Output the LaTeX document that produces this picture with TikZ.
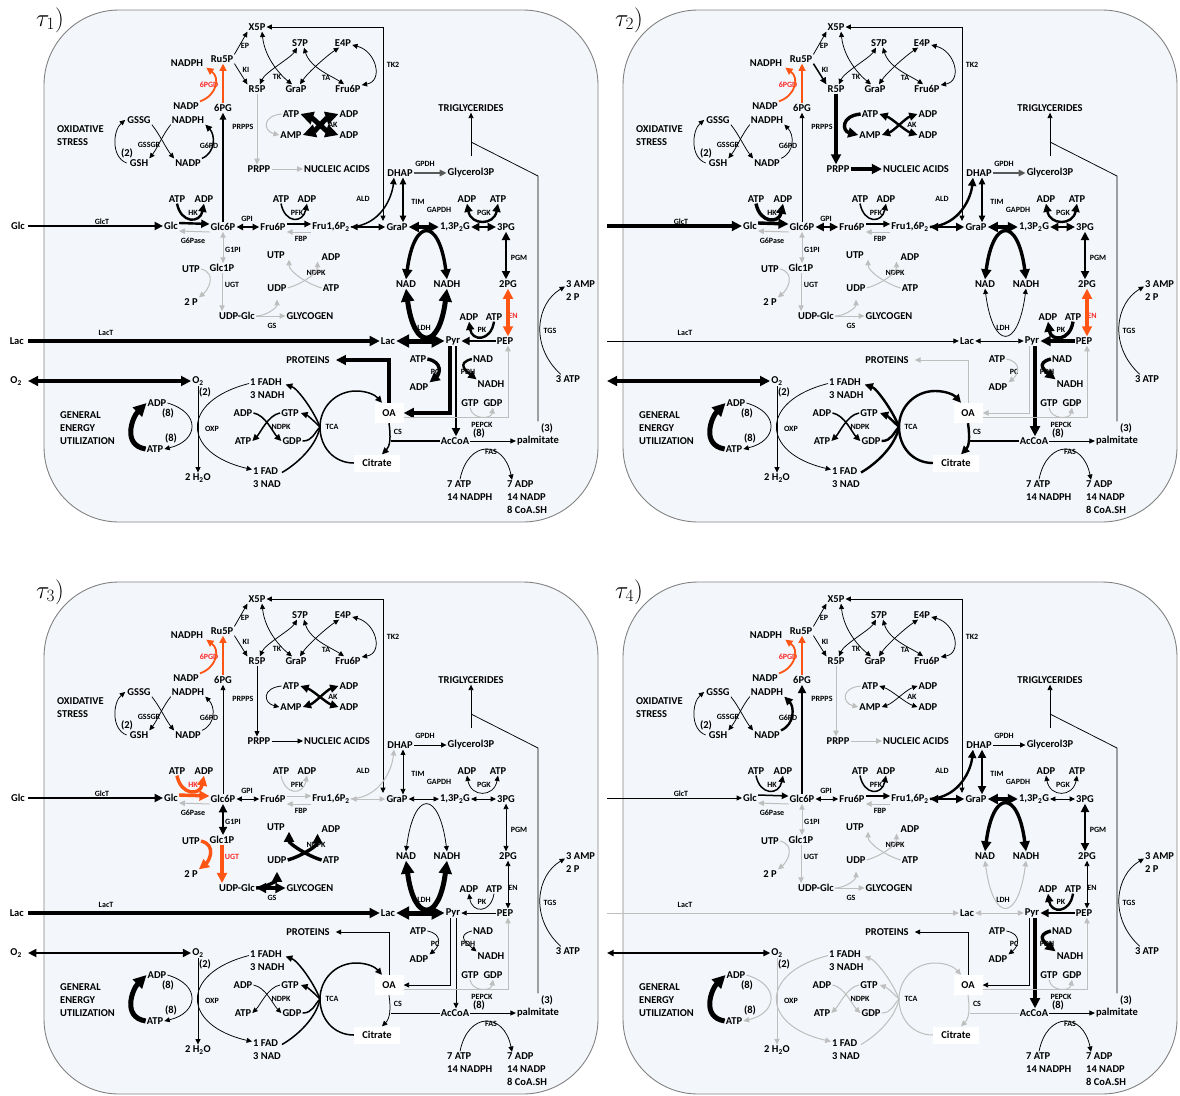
\documentclass[tikz,border=0pt]{standalone}
\usepackage[no-math]{fontspec}
\setmainfont{Carlito}
\usetikzlibrary{arrows.meta}
\definecolor{panelbg}{RGB}{243,246,250}
\definecolor{panelline}{RGB}{130,130,130}
\definecolor{idlegray}{RGB}{190,190,190}
\definecolor{hotorange}{RGB}{255,85,20}
\definecolor{labred}{RGB}{250,40,40}
\newcommand{\mfont}{\fontsize{10.5}{13}\selectfont\bfseries}
\newcommand{\efont}{\fontsize{8}{9}\selectfont\bfseries}
\newif\ifextlbl
\tikzset{
  >={Triangle[length=4pt 1.8, width=3.6pt 1.8]},
  lbl/.style={font=\mfont, inner sep=1pt},
  enz/.style={font=\efont, inner sep=0.5pt},
  mlbl/.style={lbl, align=left, anchor=west},
  wbox/.style={lbl, fill=white, minimum width=29pt, minimum height=20pt},
  panelbox/.style={draw=panelline, fill=panelbg, line width=0.9pt, rounded corners=75pt},
  wA/.style={draw=black, line width=0.75pt},
  wB/.style={draw=black, line width=1.5pt},
  wC/.style={draw=black, line width=2.4pt},
  wD/.style={draw=black, line width=3.4pt},
  wE/.style={draw=black, line width=5pt},
  idle/.style={draw=idlegray, line width=1pt},
  dgray/.style={draw=black!65, line width=1.6pt},
  hotB/.style={draw=hotorange, line width=1.8pt},
  hotD/.style={draw=hotorange, line width=3.4pt},
  redlbl/.style={text=labred},
  % reaction styles, thin black unless a panel says otherwise
  rEP/.style=wA, rKI/.style=wA, rTK/.style=wA, rTA/.style=wA, rTKtwo/.style=wA,
  rBACK/.style=wA, rPGD/.style=hotB, rGPD/.style=wA, rGSSGR/.style=wA, rOX/.style=wA,
  rPRPPS/.style=wA, rAK/.style=wA, rNUC/.style=wA, rGlcT/.style=wA, rHK/.style=wA,
  rGPase/.style=idle, rGPI/.style=wA, rGPIone/.style=wA, rUGT/.style=wA, rGS/.style=wA,
  rGStip/.style={->}, rNDPKa/.style=wA, rPFK/.style=wA, rFBP/.style=idle, rALD/.style=wA,
  rTIM/.style=wA, rGPDH/.style=wA, rTRI/.style=wA, rGAPDH/.style=wA, rPGK/.style=wA,
  rPGM/.style=wA, rEN/.style=wA, rPK/.style=wA, rLDH/.style=wA, rLacT/.style=wA,
  rPC/.style=wA, rPDH/.style=wA, rPEPCK/.style=idle, rPROT/.style=wA, rCS/.style=wA,
  rTCA/.style=wA, rNDPKb/.style=wA, rOXP/.style=wA, rGEU/.style=wE, rO2/.style=wA,
  rFAS/.style=wA, rTGS/.style=wA,
  lENc/.style={}, lHKc/.style={}, lUGTc/.style={},
}

% one panel of the network, in panel-1 pixel coordinates
\newcommand{\metnet}[1]{%
  \draw[panelbox] (44,10) rectangle (598,522);
  \node[font=\fontsize{24}{24}\selectfont] (title) at (50,20) {$\tau_{#1})$};
  % external pools
  \coordinate (GlcXe) at (28,226);
  \coordinate (LacXe) at (28,341);
  \coordinate (O2Xe) at (28,381);
  \ifextlbl
    \node[lbl, anchor=east] (GlcX) at (26,226) {Glc};
    \node[lbl, anchor=east] (LacX) at (25,341) {Lac};
    \node[lbl, anchor=east] (O2X) at (23,381) {O\textsubscript{2}};
  \fi
  % pentose phosphates
  \node[lbl] (X5P) at (257,27) {X5P};
  \node[enz] (lEP) at (245,46) {EP};
  \node[lbl] (Ru5P) at (222,59) {Ru5P};
  \node[lbl] (nadphA) at (187,63) {NADPH};
  \node[enz] (lKI) at (246,70) {KI};
  \node[lbl] (R5P) at (257,89) {R5P};
  \node[enz] (lTK) at (277,77) {TK};
  \node[lbl] (GraPa) at (296,89) {GraP};
  \node[lbl] (S7P) at (300,43) {S7P};
  \node[lbl] (E4P) at (343,43) {E4P};
  \node[enz] (lTA) at (326,78) {TA};
  \node[lbl] (Fru6Pa) at (348,89) {Fru6P};
  \node[enz] (lTKtwo) at (393,65) {TK2};
  \node[enz, redlbl] (lPGD) at (209,85) {6PGD};
  \node[lbl] (nadpA) at (186,106) {NADP};
  \node[lbl] (sixPG) at (223,108) {6PG};
  % glutathione
  \node[lbl] (GSSG) at (139,120) {GSSG};
  \node[lbl] (nadphB) at (188,120) {NADPH};
  \node[mlbl] (oxs) at (56,135.5) {OXIDATIVE\\STRESS};
  \node[enz] (lGSSGR) at (149,145) {GSSGR};
  \node[enz] (lGPD) at (209,146) {G6PD};
  \node[lbl] (twoA) at (127,153) {(2)};
  \node[lbl] (GSH) at (139,163) {GSH};
  \node[lbl] (nadpB) at (188,163) {NADP};
  % nucleotides
  \node[enz] (lPRPPS) at (243,127) {PRPPS};
  \node[lbl] (atpAK) at (291,114) {ATP};
  \node[lbl] (ampAK) at (291,135) {AMP};
  \node[lbl] (adpAKa) at (349,114) {ADP};
  \node[lbl] (adpAKb) at (349,135) {ADP};
  \node[enz] (lAK) at (333,125) {AK};
  \node[lbl] (PRPP) at (259,169) {PRPP};
  \node[lbl] (nucl) at (337,169) {NUCLEIC ACIDS};
  % lipids, top
  \node[lbl] (TRI) at (471,108) {TRIGLYCERIDES};
  \node[lbl] (DHAP) at (400,173) {DHAP};
  \node[enz] (lGPDH) at (425,164) {GPDH};
  \node[lbl] (G3P) at (471,173) {Glycerol3P};
  % glycolysis
  \node[lbl] (atpHK) at (177,199) {ATP};
  \node[lbl] (adpHK) at (204,199) {ADP};
  \node[lbl] (atpPFK) at (281,199) {ATP};
  \node[lbl] (adpPFK) at (307,199) {ADP};
  \node[enz] (lALD) at (363,199) {ALD};
  \node[enz] (lTIM) at (418,202) {TIM};
  \node[lbl] (adpPGK) at (467,199) {ADP};
  \node[lbl] (atpPGK) at (498,199) {ATP};
  \node[enz] (lGAPDH) at (439,210) {GAPDH};
  \node[enz, lHKc] (lHK) at (193,213) {HK};
  \node[enz] (lPFK) at (297,213) {PFK};
  \node[enz] (lPGK) at (484,213) {PGK};
  \node[enz] (lGPI) at (247,219) {GPI};
  \node[enz] (lGlcT) at (102,222) {GlcT};
  \node[lbl] (Glc) at (171,226) {Glc};
  \node[lbl] (Glc6P) at (223,227) {Glc6P};
  \node[lbl] (Fru6P) at (273,227) {Fru6P};
  \node[lbl] (Fru16) at (331,227) {Fru1,6P\textsubscript{2}};
  \node[lbl] (GraP) at (397,227) {GraP};
  \node[lbl] (P13G) at (455,227) {1,3P\textsubscript{2}G};
  \node[lbl] (PG3) at (506,227) {3PG};
  \node[enz] (lGPase) at (193,241) {G6Pase};
  \node[enz] (lFBP) at (301,239) {FBP};
  \node[enz] (lGPIone) at (233,250) {G1PI};
  \node[lbl] (utpA) at (276,255) {UTP};
  \node[lbl] (adpN) at (331,257) {ADP};
  \node[enz] (lPGM) at (519,258) {PGM};
  \node[lbl] (Glc1P) at (222,268) {Glc1P};
  \node[lbl] (utpB) at (191,269) {UTP};
  \node[enz] (lNDPKa) at (316,273) {NDPK};
  \node[lbl] (NADa) at (406,284) {NAD};
  \node[lbl] (NADHa) at (447,284) {NADH};
  \node[lbl] (PG2) at (508,284) {2PG};
  \node[mlbl] (amp3) at (565,290.5) {3 AMP\\2 P};
  \node[enz, lUGTc] (lUGT) at (232,285) {UGT};
  \node[lbl] (udpA) at (277,288) {UDP};
  \node[lbl] (atpN) at (331,288) {ATP};
  \node[lbl] (twoP) at (191,302) {2 P};
  \node[lbl] (UDPGlc) at (237,316) {UDP-Glc};
  \node[lbl] (GLYC) at (310,316) {GLYCOGEN};
  \node[enz, lENc] (lEN) at (513,316) {EN};
  \node[lbl] (adpPK) at (469,317) {ADP};
  \node[lbl] (atpPK) at (494,317) {ATP};
  \node[enz] (lGS) at (272,326) {GS};
  \node[enz] (lLDH) at (424,328) {LDH};
  \node[enz] (lPK) at (482,330) {PK};
  \node[enz] (lTGS) at (550,331) {TGS};
  \node[enz] (lLacT) at (106,333) {LacT};
  \node[lbl] (Lac) at (388,341) {Lac};
  \node[lbl] (Pyr) at (453,341) {Pyr};
  \node[lbl] (PEP) at (505,341) {PEP};
  % pyruvate, TCA, respiration
  \node[lbl] (PROT) at (308,360) {PROTEINS};
  \node[lbl] (atpPC) at (418,359) {ATP};
  \node[lbl] (nadPDH) at (483,359) {NAD};
  \node[enz] (lPC) at (435,372) {PC};
  \node[enz] (lPDH) at (468,372) {PDH};
  \node[lbl] (atp3) at (568,379) {3 ATP};
  \node[lbl] (O2) at (198,381) {O\textsubscript{2}};
  \node[mlbl] (fadh) at (249,388.5) {1 FADH\\3 NADH};
  \node[lbl] (twoB) at (205,392) {(2)};
  \node[lbl] (adpPC) at (419,387) {ADP};
  \node[lbl] (nadhPDH) at (491,384) {NADH};
  \node[lbl] (adpOX) at (157,403) {ADP};
  \node[lbl] (eightA) at (168,413) {(8)};
  \node[lbl] (gtpP) at (470,403) {GTP};
  \node[lbl] (gdpP) at (493,403) {GDP};
  \node[wbox] (OA) at (389,413) {OA};
  \node[lbl] (adpNb) at (243,413) {ADP};
  \node[lbl] (gtpN) at (290,413) {GTP};
  \node[mlbl] (geu) at (59,428) {GENERAL\\ENERGY\\UTILIZATION};
  \node[enz] (lPEPCK) at (482,425) {PEPCK};
  \node[lbl] (eightB) at (479,433) {(8)};
  \node[lbl] (threeP) at (547,428) {(3)};
  \node[enz] (lOXP) at (212,429) {OXP};
  \node[enz] (lNDPKb) at (281,427) {NDPK};
  \node[enz] (lTCA) at (332,427) {TCA};
  \node[enz] (lCS) at (398,432) {CS};
  \node[lbl] (eightC) at (171,438) {(8)};
  \node[lbl] (atpNb) at (243,441) {ATP};
  \node[lbl] (gdpN) at (292,441) {GDP};
  \node[lbl] (AcCoA) at (455,441) {AcCoA};
  \node[lbl] (palm) at (538,441) {palmitate};
  \node[lbl] (atpOX) at (155,449) {ATP};
  \node[lbl, fill=white, minimum width=46pt, minimum height=17pt] (Cit) at (377,463) {Citrate};
  \node[mlbl] (fad) at (252,477.5) {1 FAD\\3 NAD};
  \node[lbl] (water) at (198,478) {2 H\textsubscript{2}O};
  \node[enz] (lFAS) at (491,452) {FAS};
  \node[mlbl] (fasin) at (446,490.5) {7 ATP\\14 NADPH};
  \node[mlbl] (fasout) at (506,497.5) {7 ADP\\14 NADP\\8 CoA.SH};
  % pentose phosphate connectors
  \draw[rEP,->] (Ru5P.north east) -- (X5P.south west);
  \draw[rKI,->] (Ru5P.south east) -- (R5P.north west);
  \draw[rTK,<->] ([xshift=5]X5P.south) .. controls +(3,28) and +(-10,-8) .. ([xshift=-4]GraPa.north);
  \draw[rTK,<->] ([xshift=3]R5P.north) .. controls +(5,-12) and +(-6,10) .. ([xshift=-3]S7P.south);
  \draw[rTA,<->] ([xshift=4]S7P.south) .. controls +(6,20) and +(-12,-8) .. ([xshift=-4]Fru6Pa.north);
  \draw[rTA,<->] ([xshift=4]GraPa.north) .. controls +(8,-12) and +(-12,8) .. ([xshift=-4]E4P.south);
  \draw[rTKtwo,<->] ([yshift=-2]E4P.east) .. controls +(24,6) and +(22,-4) .. ([yshift=4]Fru6Pa.east);
  \coordinate (backT) at (383,27);
  \coordinate (backB) at (383,221);
  \draw[rBACK,<->] (X5P.east) -- (backT) -- (backB);
  \draw[rPGD,->] (sixPG.north) -- (sixPG.north |- Ru5P.south);
  \draw[rPGD,->] (nadpA.north east) .. controls +(17,-6) and +(14,10) .. ([xshift=2]nadphA.south east);
  \draw[rGPD,->] (Glc6P.north) -- (Glc6P.north |- sixPG.south);
  \draw[rGPD,->] (nadpB.north east) .. controls +(14,-6) and +(10,10) .. (nadphB.south east);
  \draw[rGSSGR,->] (GSSG.south east) .. controls +(8,10) and +(-8,-10) .. (nadpB.north west);
  \draw[rGSSGR,->] (nadphB.south west) .. controls +(-8,10) and +(8,-10) .. (GSH.north east);
  \draw[rOX,->] ([xshift=-2]GSH.west) .. controls +(-16,-6) and +(-12,10) .. ([xshift=-1]GSSG.west);
  % nucleotides
  \draw[rPRPPS,->] (R5P.south) -- (R5P.south |- PRPP.north);
  \draw[rPRPPS,->] (atpAK.west) .. controls +(-20,2) and +(-16,-4) .. (ampAK.west);
  \draw[rAK,<->] (atpAK.east) .. controls +(12,4) and +(-12,-4) .. (adpAKb.west);
  \draw[rAK,<->] (ampAK.east) .. controls +(12,-4) and +(-12,4) .. (adpAKa.west);
  \draw[rNUC,->] (PRPP.east) -- (nucl.west);
  % glucose and glycogen
  \draw[rGlcT,->] (GlcXe) -- (Glc.west);
  \draw[rHK,->] ([yshift=3]Glc.east) -- ([yshift=3]Glc6P.west);
  \draw[rHK,->] (atpHK.south) .. controls +(4,20) and +(-4,20) .. (adpHK.south);
  \draw[rGPase,->] ([yshift=-5]Glc6P.west) -- ([yshift=-5]Glc.east);
  \draw[rGPI,<->] (Glc6P.east) -- (Fru6P.west);
  \draw[rGPIone,<->] (Glc6P.south) -- (Glc6P.south |- Glc1P.north);
  \draw[rUGT,->] (Glc1P.south) -- (Glc1P.south |- UDPGlc.north);
  \draw[rUGT,->] (utpB.east) .. controls +(16,4) and +(10,-8) .. (twoP.north east);
  \draw[rGS,rGStip] (UDPGlc.east) -- (GLYC.west);
  \draw[rGS,->] (UDPGlc.east) .. controls +(10,0) and +(0,8) .. ([yshift=-7]udpA.south);
  \draw[rNDPKa,->] (udpA.east) .. controls +(14,-4) and +(0,12) .. ([xshift=-3]adpN.south west);
  \draw[rNDPKa,->] (atpN.west) .. controls +(-14,-4) and +(0,12) .. ([xshift=3]utpA.south east);
  % upper glycolysis
  \draw[rPFK,->] ([yshift=3]Fru6P.east) -- ([yshift=3]Fru16.west);
  \draw[rPFK,->] (atpPFK.south) .. controls +(4,20) and +(-4,20) .. (adpPFK.south);
  \draw[rFBP,->] ([yshift=-5]Fru16.west) -- ([yshift=-5]Fru6P.east);
  \draw[rALD,<->] (Fru16.east) -- (GraP.west);
  \draw[rALD,->] (Fru16.east) .. controls +(30,-2) and +(-2,20) .. ([xshift=-6]DHAP.south);
  \draw[rTIM,<->] ([xshift=3]DHAP.south) -- ([xshift=3]DHAP.south |- GraP.north);
  \draw[rGPDH,->] (DHAP.east) -- (G3P.west);
  \draw[rTRI,->] ([yshift=11]G3P.north) -- (TRI.south);
  \coordinate (triJ) at (471,142);
  \coordinate (triC) at (537,176);
  \draw[rTRI] ([yshift=14]palm.north) -- (palm.north |- triC) -- (triJ);
  % lower glycolysis
  \draw[rGAPDH,<->] (GraP.east) -- (P13G.west);
  \draw[rGAPDH,<->] (NADa.north) .. controls +(8,-62) and +(-8,-62) .. (NADHa.north);
  \draw[rPGK,<->] (P13G.east) -- (PG3.west);
  \draw[rPGK,<->] (adpPGK.south) .. controls +(4,22) and +(-4,22) .. (atpPGK.south);
  \draw[rPGM,<->] (PG3.south) -- (PG3.south |- PG2.north);
  \draw[rEN,<->] (PG2.south) -- (PG2.south |- PEP.north);
  \draw[rPK,->] (PEP.west) -- (Pyr.east);
  \draw[rPK,->] (atpPK.south) .. controls +(-3,20) and +(3,20) .. (adpPK.south);
  \draw[rLDH,<->] (Lac.east) -- (Pyr.west);
  \draw[rLDH,<->] (NADa.south) .. controls +(8,62) and +(-8,62) .. (NADHa.south);
  \draw[rLacT,->] (LacXe) -- (Lac.west);
  % pyruvate branch point
  \draw[rPC,->] ([xshift=-3]Pyr.south) |- (OA.east);
  \draw[rPC,->] (atpPC.east) .. controls +(16,3) and +(10,-8) .. (adpPC.north east);
  \draw[rPDH,->] ([xshift=3]Pyr.south) -- ([xshift=3]Pyr.south |- AcCoA.north);
  \draw[rPDH,->] (nadPDH.west) .. controls +(-16,4) and +(-10,-8) .. (nadhPDH.north west);
  \draw[rPEPCK,->] ([yshift=-4]OA.east) -| ([xshift=3]PEP.south);
  \draw[rPEPCK,->] (gtpP.south) .. controls +(2,12) and +(-2,12) .. (gdpP.south);
  \draw[rPROT,->] (OA.north) |- ([xshift=5]PROT.east);
  \coordinate (csJ) at (391,441);
  \draw[rCS] (AcCoA.west) -- (csJ);
  \draw[rCS,->] (OA.south) .. controls +(2,14) and +(8,-8) .. ([xshift=5]Cit.north);
  % TCA cycle
  \coordinate (tcaJ) at (320,427);
  \coordinate (tcaT) at (356,391);
  \draw[rTCA,->] (Cit.west) .. controls +(-20,0) and +(0,20) .. (tcaJ)
    .. controls +(0,-20) and +(-20,0) .. (tcaT)
    .. controls +(11,0) and +(-7,-8) .. ([xshift=-7]OA.north);
  \draw[rTCA,->] (tcaJ) .. controls +(-6,-16) and +(12,4) .. ([yshift=4]fadh.east);
  \draw[rTCA,->] (tcaJ) .. controls +(-8,-8) and +(6,2) .. ([xshift=1]gtpN.east);
  \draw[rTCA] (gdpN.east) .. controls +(10,0) and +(-6,6) .. (tcaJ);
  \draw[rTCA] ([yshift=5]fad.east) .. controls +(14,-8) and +(-4,20) .. (tcaJ);
  \draw[rNDPKb,->] (adpNb.east) .. controls +(12,2) and +(-8,-8) .. (gdpN.west);
  \draw[rNDPKb,->] (gtpN.west) .. controls +(-12,2) and +(8,-8) .. (atpNb.east);
  % respiration and energy use
  \draw[rOXP,->] (O2.south) -- (O2.south |- water.north);
  \draw[rOXP,->] (adpOX.east) .. controls +(34,10) and +(34,-8) .. (atpOX.east);
  \draw[rOXP,->] ([yshift=5]fadh.west) .. controls +(-70,18) and +(-70,-16) .. ([yshift=8]fad.west);
  \draw[rGEU,->] (atpOX.west) .. controls +(-24,-4) and +(-14,14) .. (adpOX.west);
  \draw[rO2,<->] (O2Xe) -- (O2.west);
  % fatty acids
  \draw[rFAS,->] (AcCoA.east) -- (palm.west);
  \draw[rFAS,->] ([xshift=14]fasin.north west) .. controls +(8,-40) and +(-8,-40) .. ([xshift=6]fasout.north west);
  \draw[rTGS,->] ([xshift=6]atp3.north west) .. controls +(-31,-28) and +(-29,17) .. ([yshift=4]amp3.west);
}

\begin{document}
\begin{tikzpicture}[x=1pt, y=-1pt]
\useasboundingbox (0,0) rectangle (1180,1095);

% tau 1
\begin{scope}[name prefix=pA-,
  rGPD/.style=wB, rPRPPS/.style=idle, rAK/.style=wE, rNUC/.style=idle,
  rGlcT/.style=wC, rHK/.style=wC, rGPI/.style=wB, rGPIone/.style=idle,
  rUGT/.style=idle, rGS/.style=idle, rNDPKa/.style=idle, rPFK/.style=wB,
  rALD/.style=wB, rTIM/.style=wB, rGPDH/.style=dgray, rGAPDH/.style=wD,
  rPGK/.style=wC, rPGM/.style=wC, rEN/.style=hotD, rPK/.style=wC,
  rLDH/.style=wE, rLacT/.style=wD, rPC/.style=wD, rPDH/.style=wC,
  rPROT/.style=wD, rCS/.style=wB, rTCA/.style=wB, rNDPKb/.style=wB,
  rO2/.style=wD, lENc/.style=redlbl]
  \extlbltrue
  \metnet{1}
\end{scope}

% tau 2
\begin{scope}[shift={(579,0)}, name prefix=pB-,
  rKI/.style=wB, rPRPPS/.style=wD, rAK/.style=wC, rNUC/.style=wD,
  rGlcT/.style=wD, rHK/.style=wD, rGPI/.style=wC, rGPIone/.style=idle,
  rUGT/.style=idle, rGS/.style=idle, rNDPKa/.style=idle, rPFK/.style=wB,
  rALD/.style=wC, rTIM/.style=wB, rGPDH/.style=dgray, rGAPDH/.style=wD,
  rPGK/.style=wC, rPGM/.style=wC, rEN/.style=hotD, rPK/.style=wD,
  rPC/.style=idle, rPDH/.style=wD, rPROT/.style=idle, rCS/.style=wC,
  rTCA/.style=wC, rNDPKb/.style=wB, rO2/.style=wD, lENc/.style=redlbl]
  \extlblfalse
  \metnet{2}
\end{scope}

% tau 3
\begin{scope}[shift={(0,572)}, name prefix=pC-,
  rAK/.style=wC, rGlcT/.style=wC, rHK/.style=hotD, rGPIone/.style=wC,
  rUGT/.style=hotD, rGS/.style=wD, rGStip/.style={<->}, rNDPKa/.style=wD,
  rPFK/.style=idle, rALD/.style=idle, rLDH/.style=wE, rLacT/.style=wD,
  rTCA/.style=wB, rO2/.style=wC, lHKc/.style=redlbl, lUGTc/.style=redlbl]
  \extlbltrue
  \metnet{3}
\end{scope}

% tau 4
\begin{scope}[shift={(579,572)}, name prefix=pD-,
  rGPD/.style=wC, rPRPPS/.style=idle, rNUC/.style=idle, rHK/.style=wB,
  rGPIone/.style=idle, rUGT/.style=idle, rGS/.style=idle, rNDPKa/.style=idle,
  rPFK/.style=wB, rALD/.style=wC, rTIM/.style=wC, rGAPDH/.style=wD,
  rPGM/.style=wC, rPK/.style=wC, rLDH/.style=idle, rLacT/.style=idle,
  rPDH/.style=wD, rCS/.style=idle, rTCA/.style=idle, rNDPKb/.style=idle,
  rOXP/.style=idle, rO2/.style=wB]
  \extlblfalse
  \metnet{4}
\end{scope}
\end{tikzpicture}
\end{document}
